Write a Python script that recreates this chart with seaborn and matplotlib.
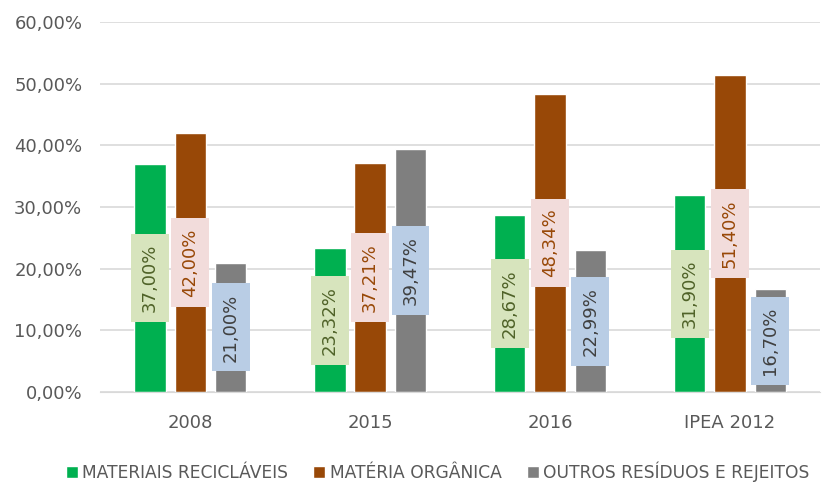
import pandas as pd
import numpy as np
import matplotlib
matplotlib.use("Agg")
import matplotlib.pyplot as plt
import seaborn as sns

# chart data (percent)
groups = ["2008", "2015", "2016", "IPEA 2012"]
series = ["MATERIAIS RECICLÁVEIS", "MATÉRIA ORGÂNICA", "OUTROS RESÍDUOS E REJEITOS"]
reciclaveis = [37.00, 23.32, 28.67, 31.90]
organica = [42.00, 37.21, 48.34, 51.40]
outros = [21.00, 39.47, 22.99, 16.70]

bar_colors = ["#00b050", "#984807", "#7f7f7f"]
box_colors = ["#d7e4bd", "#f2dcdb", "#b9cde5"]
text_colors = ["#4f6228", "#984807", "#404040"]

df = pd.DataFrame({
    "grupo": groups * 3,
    "serie": [series[0]] * 4 + [series[1]] * 4 + [series[2]] * 4,
    "valor": reciclaveis + organica + outros,
})

sns.set_style("white")
plt.rcParams["font.family"] = ["DejaVu Sans"]

fig = plt.figure(figsize=(8.29, 4.86), dpi=100)
ax = fig.add_axes([0.121, 0.193, 0.868, 0.762])

sns.barplot(data=df, x="grupo", y="valor", hue="serie", order=groups,
            hue_order=series, palette=bar_colors, width=0.673, gap=0.22,
            saturation=1, ax=ax, legend=True)

def pt(v):
    return f"{v:.2f}".replace(".", ",") + "%"

for i, cont in enumerate(ax.containers):
    ax.bar_label(cont, labels=[pt(v) for v in cont.datavalues], label_type="center",
                 rotation=90, fontsize=13, color=text_colors[i],
                 bbox=dict(boxstyle="square,pad=0.55", fc=box_colors[i], ec="none"))

ax.set_ylim(0, 60)
ax.set_yticks(np.arange(0, 61, 10))
ax.set_yticklabels([pt(v) for v in np.arange(0, 61, 10)])
ax.grid(axis="y", color="#d9d9d9", linewidth=1.2)
ax.set_axisbelow(True)
for s in ["top", "right", "left"]:
    ax.spines[s].set_visible(False)
ax.spines["bottom"].set_color("#d9d9d9")
ax.tick_params(axis="y", length=0, pad=13, labelsize=13, labelcolor="#595959")
ax.tick_params(axis="x", length=0, pad=16, labelsize=13, labelcolor="#595959")
ax.set_xlabel("")
ax.set_ylabel("")
ax.set_xlim(-0.5, 3.5)

ax.legend_.remove()
handles, labels = ax.get_legend_handles_labels()
leg = fig.legend(handles, labels, loc="center", bbox_to_anchor=(0.528, 0.03), ncol=3,
                 frameon=False, handlelength=0.7, handleheight=0.7, handletextpad=0.25,
                 columnspacing=1.5, prop={"size": 12.3})
for t in leg.get_texts():
    t.set_color("#595959")

fig.savefig("out.png", dpi=100)
